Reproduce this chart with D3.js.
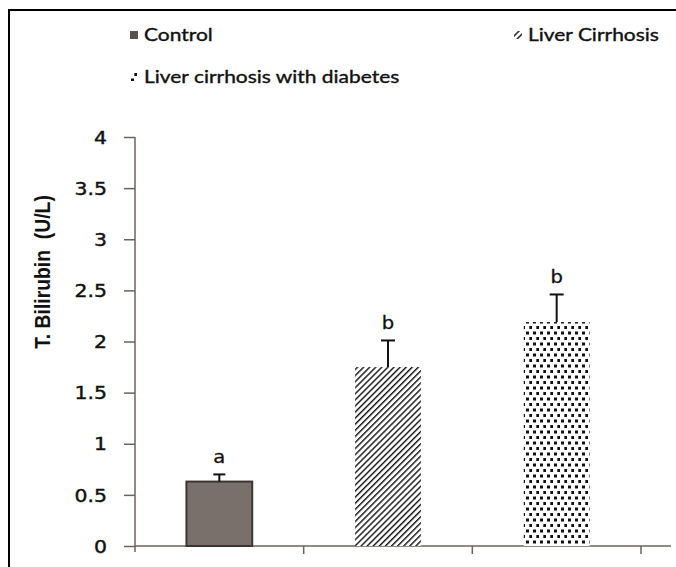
<!DOCTYPE html>
<html>
<head>
<meta charset="utf-8">
<script src="https://cdn.jsdelivr.net/npm/d3@7"></script>
<style>
  html, body { margin: 0; padding: 0; background: #fff; }
  svg { display: block; }
</style>
</head>
<body>
<svg id="chart" width="676" height="567"></svg>
<script>
// chart data
var groups = ["Control", "Liver Cirrhosis", "Liver cirrhosis with diabetes"];
var means = [0.63, 1.75, 2.19];
var errors = [0.07, 0.26, 0.27];
var letters = ["a", "b", "b"];
var yTicks = [0, 0.5, 1, 1.5, 2, 2.5, 3, 3.5, 4];

var svg = d3.select("#chart");
var defs = svg.append("defs");

// hatch pattern "/" for liver cirrhosis
var hatch = defs.append("pattern").attr("id", "hatch")
  .attr("patternUnits", "userSpaceOnUse")
  .attr("width", 4.3).attr("height", 4.3)
  .attr("patternTransform", "rotate(45)");
hatch.append("rect").attr("width", 4.3).attr("height", 4.3).attr("fill", "#fff");
hatch.append("line").attr("x1", 0).attr("y1", 0).attr("x2", 0).attr("y2", 4.3)
  .attr("stroke", "#111").attr("stroke-width", 2.8);

// dotted pattern for cirrhosis with diabetes
var dots = defs.append("pattern").attr("id", "dots")
  .attr("patternUnits", "userSpaceOnUse")
  .attr("width", 7).attr("height", 11);
dots.append("rect").attr("width", 7).attr("height", 11).attr("fill", "#fff");
dots.append("rect").attr("x", 1).attr("y", 1.5).attr("width", 3).attr("height", 3).attr("fill", "#111");
dots.append("rect").attr("x", 4.3).attr("y", 7).attr("width", 3).attr("height", 3).attr("fill", "#111");

var fills = ["#7a706b", "url(#hatch)", "url(#dots)"];
var strokes = ["#3d3532", "none", "none"];

// outer frame
svg.append("rect").attr("x", 9).attr("y", 10).attr("width", 700).attr("height", 600)
  .attr("fill", "none").attr("stroke", "#000").attr("stroke-width", 2);

var y = d3.scaleLinear().domain([0, 4]).range([546, 137]);
var x = d3.scaleBand().domain(groups).range([135, 641])
  .paddingInner(0.61).paddingOuter(0.305);

var axisColor = "#6e625d";

// y axis
var yAxis = svg.append("g").attr("transform", "translate(135,0)")
  .call(d3.axisLeft(y).tickValues(yTicks).tickSize(11).tickPadding(16)
    .tickFormat(function(d) { return String(d); }));
yAxis.select(".domain").remove();
yAxis.selectAll(".tick line").attr("stroke", axisColor).attr("stroke-width", 1.5);
yAxis.selectAll(".tick text")
  .attr("fill", "#111")
  .attr("font-family", "DejaVu Sans")
  .attr("font-size", 17)
  .attr("stroke", "#111").attr("stroke-width", 0.4)
  .attr("dy", "0.36em")
  .attr("x", 0)
  .attr("transform", "translate(-28,0) scale(1.2,1)")
  .attr("text-anchor", "end");
svg.append("line").attr("x1", 135).attr("x2", 135)
  .attr("y1", y(4)).attr("y2", y(0) + 6)
  .attr("stroke", axisColor).attr("stroke-width", 1.5);

// x axis with category boundary ticks
svg.append("line").attr("x1", 135).attr("x2", 671)
  .attr("y1", y(0)).attr("y2", y(0))
  .attr("stroke", axisColor).attr("stroke-width", 1.5);
var bounds = d3.range(1, groups.length + 1).map(function(i) { return 135 + i * x.step(); });
svg.selectAll(".xtick").data(bounds).enter().append("line")
  .attr("x1", function(d) { return d; }).attr("x2", function(d) { return d; })
  .attr("y1", y(0)).attr("y2", y(0) + 8)
  .attr("stroke", axisColor).attr("stroke-width", 1.5);

// bars
svg.selectAll(".bar").data(groups).enter().append("rect")
  .attr("x", function(d) { return x(d); })
  .attr("y", function(d, i) { return y(means[i]); })
  .attr("width", x.bandwidth())
  .attr("height", function(d, i) { return y(0) - y(means[i]); })
  .attr("fill", function(d, i) { return fills[i]; })
  .attr("stroke", function(d, i) { return strokes[i]; })
  .attr("stroke-width", 2);

// error bars (upper only)
var caps = [12, 14, 14];
groups.forEach(function(g, i) {
  var cx = x(g) + x.bandwidth() / 2;
  svg.append("line").attr("x1", cx).attr("x2", cx)
    .attr("y1", y(means[i])).attr("y2", y(means[i] + errors[i]))
    .attr("stroke", "#111").attr("stroke-width", 2);
  svg.append("line").attr("x1", cx - caps[i] / 2).attr("x2", cx + caps[i] / 2)
    .attr("y1", y(means[i] + errors[i])).attr("y2", y(means[i] + errors[i]))
    .attr("stroke", "#111").attr("stroke-width", 2);
  svg.append("text")
    .attr("transform", "translate(" + cx + "," + (y(means[i] + errors[i]) - 11) + ") scale(1.15,1)")
    .attr("text-anchor", "middle")
    .attr("font-family", "DejaVu Sans").attr("font-size", 17).attr("fill", "#111")
    .attr("stroke", "#111").attr("stroke-width", 0.3)
    .text(letters[i]);
});

// y axis title
svg.append("text")
  .attr("transform", "translate(50,272) rotate(-90) scale(0.88,1)")
  .attr("text-anchor", "middle")
  .attr("font-family", "Liberation Sans")
  .attr("font-weight", "bold")
  .attr("font-size", 22)
  .attr("fill", "#111")
  .attr("xml:space", "preserve")
  .text("T. Bilirubin  (U/L)");

// legend
var legendPos = [[130, 35], [514, 35], [130, 77]];
var legendMarks = ["#5a504b", "url(#hatch)", "url(#dots)"];
var legend = svg.selectAll(".legend").data(groups).enter().append("g")
  .attr("transform", function(d, i) { return "translate(" + legendPos[i][0] + "," + legendPos[i][1] + ")"; });
legend.append("rect").attr("x", 0).attr("y", -4).attr("width", 8).attr("height", 8)
  .attr("fill", function(d, i) { return legendMarks[i]; });
legend.append("text")
  .attr("transform", "translate(14,0) scale(1.27,1)")
  .attr("dy", "0.35em")
  .attr("font-family", "Lato")
  .attr("font-size", 16.5)
  .attr("fill", "#111")
  .attr("stroke", "#111").attr("stroke-width", 0.35)
  .text(function(d) { return d; });
</script>
</body>
</html>
